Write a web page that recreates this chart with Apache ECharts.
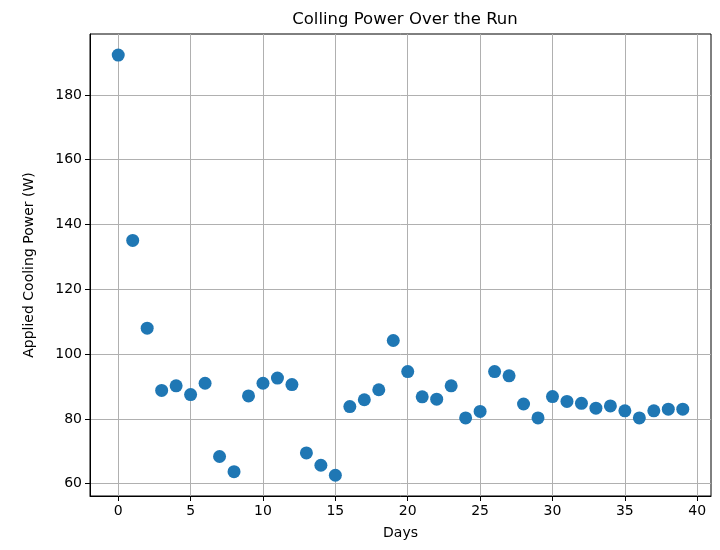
<!DOCTYPE html>
<html>
<head>
<meta charset="utf-8">
<script src="https://cdn.jsdelivr.net/npm/echarts@6/dist/echarts.min.js"></script>
<style>html,body{margin:0;padding:0;background:#fff}#c{width:720px;height:550px}</style>
</head>
<body>
<div id="c"></div>
<script>
const days = [0,1,2,3,4,5,6,7,8,9,10,11,12,13,14,15,16,17,18,19,20,21,22,23,24,25,26,27,28,29,30,31,32,33,34,35,36,37,38,39];
const power = [192.3,135.1,108.0,88.8,90.2,87.5,91.0,68.4,63.7,87.1,91.0,92.6,90.6,69.5,65.7,62.6,83.8,85.9,89.0,104.2,94.6,86.8,86.1,90.2,80.3,82.3,94.6,93.3,84.6,80.3,86.9,85.4,84.8,83.3,84.0,82.5,80.3,82.5,83.0,83.0];
const xTicks = [0,5,10,15,20,25,30,35,40];
const yTicks = [60,80,100,120,140,160,180];
const titleText = 'Colling Power Over the Run';
const xName = 'Days';
const yName = 'Applied Cooling Power (W)';

const font = 'DejaVu Sans';
const chart = echarts.init(document.getElementById('c'), null, {renderer:'canvas'});
chart.setOption({
  animation:false,
  backgroundColor:'#ffffff',
  title:{text:titleText,left:400,top:6,textAlign:'center',
    textStyle:{fontFamily:font,fontSize:16.5,fontWeight:'normal',color:'#000'}},
  grid:{left:90,right:9,top:34,bottom:54,show:true,borderColor:'#000',borderWidth:1,backgroundColor:'transparent'},
  xAxis:{type:'value',min:-1.95,max:40.95,
    name:xName,nameLocation:'middle',nameGap:30,
    nameTextStyle:{fontFamily:font,fontSize:14,color:'#000'},
    axisLine:{show:true,onZero:false,lineStyle:{color:'#000',width:1}},
    axisTick:{show:true,length:5,customValues:xTicks,lineStyle:{color:'#000'}},
    axisLabel:{customValues:xTicks,fontFamily:font,fontSize:14,color:'#000',margin:8},
    splitLine:{show:true,lineStyle:{color:'#b0b0b0',width:1}}
  },
  yAxis:{type:'value',min:56.2,max:198.8,
    name:yName,nameLocation:'middle',nameGap:54,nameRotate:90,
    nameTextStyle:{fontFamily:font,fontSize:14,color:'#000'},
    axisLine:{show:true,onZero:false,lineStyle:{color:'#000',width:1}},
    axisTick:{show:true,length:5,customValues:yTicks,lineStyle:{color:'#000'}},
    axisLabel:{customValues:yTicks,fontFamily:font,fontSize:14,color:'#000',margin:8},
    splitLine:{show:true,lineStyle:{color:'#b0b0b0',width:1}}
  },
  series:[{type:'scatter',data:days.map((d,i)=>[d,power[i]]),symbolSize:13,
    itemStyle:{color:'#1f77b4',opacity:1}}]
});
</script>
</body>
</html>
